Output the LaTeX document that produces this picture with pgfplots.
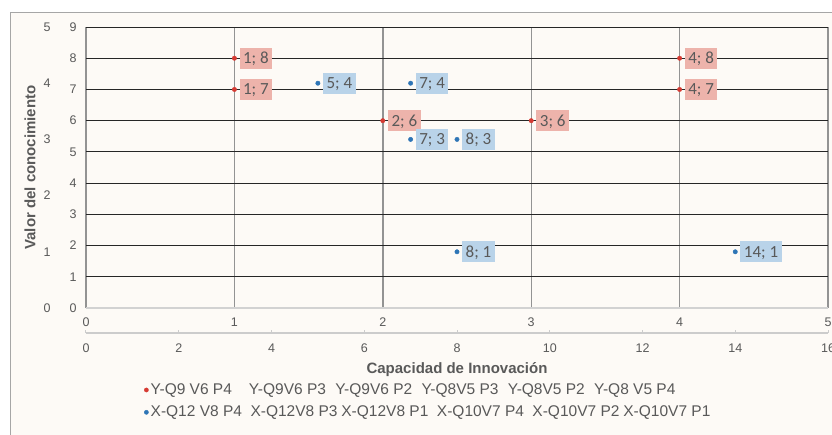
\documentclass[border=0pt]{standalone}
\usepackage{pgfplots}
\pgfplotsset{compat=1.18}
\usepackage{fontspec}
\setmainfont{Liberation Sans}
\newfontfamily\lblfont{Carlito}
\definecolor{txt}{HTML}{595959}
\definecolor{bg}{HTML}{FDFAF6}
\definecolor{rpt}{HTML}{D63A32}
\definecolor{bpt}{HTML}{2E75B6}
\definecolor{rbox}{HTML}{EDB3AB}
\definecolor{bbox}{HTML}{B9D3E9}
\protected\def\labsep{;\nobreakspace}
\pgfplotsset{/pgf/number format/assume math mode=true}
\begin{document}
\begin{tikzpicture}[font=\fontsize{12.5}{15}\selectfont]
\path[use as bounding box] (-86pt,-126pt) rectangle (746pt,308pt);
\begin{scope}
\clip (-86pt,-126pt) rectangle (746pt,308pt);
\fill[white] (-86pt,-126pt) rectangle (746pt,308pt);
\draw[fill=bg, draw=gray!70, line width=1pt] (-75pt,-140pt) rectangle (760pt,295pt);
% primary axis
\begin{axis}[
  at={(0pt,0pt)}, anchor=south west, scale only axis,
  width=742pt, height=281pt,
  xmin=0, xmax=5, ymin=0, ymax=9,
  xtick={0,...,5}, ytick={0,...,9},
  axis line style={draw=none},
  major tick length=0pt,
  xmajorgrids, ymajorgrids,
  x grid style={gray!85, line width=1.4pt},
  y grid style={black!85, line width=0.8pt},
  tick label style={text=txt},
  xticklabel style={yshift=-6pt},
  yticklabel style={xshift=-6pt},
  xlabel={Capacidad de Innovación},
  xlabel style={at={(axis description cs:0.5,0)}, anchor=center, yshift=-62pt,
     font=\fontsize{15}{18}\selectfont\bfseries, text=txt},
  legend style={at={(axis description cs:0.078,-0.262)}, anchor=north west,
     draw=none, fill=none, inner sep=0pt, row sep=6pt,
     font=\fontsize{15.5}{18}\selectfont, text=txt,
     cells={anchor=west}},
  legend image code/.code={\fill[#1] (3pt,0pt) circle (2.1pt);},
  clip=false,
]
\addplot[only marks, mark=*, mark size=2.2pt, color=rpt,
  point meta=explicit symbolic, nodes near coords={\pgfplotspointmeta},
  every node near coord/.append style={anchor=west, xshift=5pt, fill=rbox,
    text=txt, font=\fontsize{17}{19}\selectfont\lblfont,
    inner xsep=3.5pt, inner ysep=4.5pt, text height=11.5pt, text depth=0.5pt}]
  table[x=x, y=y, meta=lab, col sep=comma, row sep=\\] {
  x,y,lab\\
  1,8,1\labsep8\\
  1,7,1\labsep7\\
  2,6,2\labsep6\\
  3,6,3\labsep6\\
  4,8,4\labsep8\\
  4,7,4\labsep7\\
};
\addlegendentry{Y-Q9 V6 P4\hspace{1.1em}Y-Q9V6 P3\hspace{0.6em}Y-Q9V6 P2\hspace{0.6em}Y-Q8V5 P3\hspace{0.6em}Y-Q8V5 P2\hspace{0.6em}Y-Q8 V5 P4}
\addlegendimage{color=bpt}
\addlegendentry{X-Q12 V8 P4\hspace{0.55em}X-Q12V8 P3\hspace{0.25em}X-Q12V8 P1\hspace{0.55em}X-Q10V7 P4\hspace{0.55em}X-Q10V7 P2\hspace{0.25em}X-Q10V7 P1}
\draw[gray!35, line width=1.4pt] (rel axis cs:0,0) -- (rel axis cs:1,0);
\end{axis}
% secondary axis (values)
\begin{axis}[
  at={(0pt,0pt)}, anchor=south west, scale only axis,
  width=742pt, height=281pt,
  xmin=0, xmax=16, ymin=0, ymax=5,
  hide x axis,
  axis y line*=left,
  y axis line style={draw=none},
  ytick={0,...,5},
  major tick length=0pt,
  tick label style={text=txt},
  yticklabel style={xshift=-32pt},
  ylabel={Valor del conocimiento},
  ylabel style={at={(axis description cs:0,0.5)}, anchor=center, yshift=56pt,
     font=\fontsize{15}{18}\selectfont\bfseries, text=txt},
  clip=false,
]
\addplot[only marks, mark=*, mark size=2.2pt, color=bpt,
  point meta=explicit symbolic, nodes near coords={\pgfplotspointmeta},
  every node near coord/.append style={anchor=west, xshift=5pt, fill=bbox,
    text=txt, font=\fontsize{17}{19}\selectfont\lblfont,
    inner xsep=3.5pt, inner ysep=4.5pt, text height=11.5pt, text depth=0.5pt}]
  table[x=x, y=y, meta=lab, col sep=comma, row sep=\\] {
  x,y,lab\\
  5,4,5\labsep4\\
  7,4,7\labsep4\\
  7,3,7\labsep3\\
  8,3,8\labsep3\\
  8,1,8\labsep1\\
  14,1,14\labsep1\\
};
\end{axis}
% secondary x axis line
\begin{axis}[
  at={(0pt,-25pt)}, anchor=south west, scale only axis,
  width=742pt, height=10pt,
  xmin=0, xmax=16, ymin=0, ymax=1,
  hide y axis,
  axis x line*=bottom,
  x axis line style={gray!40, line width=1.2pt, -},
  xtick={0,2,...,16},
  tick align=inside,
  major tick length=3.5pt,
  xtick style={gray!40, line width=1pt},
  tick label style={text=txt},
  xticklabel style={yshift=-7pt},
]
\addplot[draw=none] coordinates {(0,0)};
\end{axis}
\end{scope}
\end{tikzpicture}
\end{document}
